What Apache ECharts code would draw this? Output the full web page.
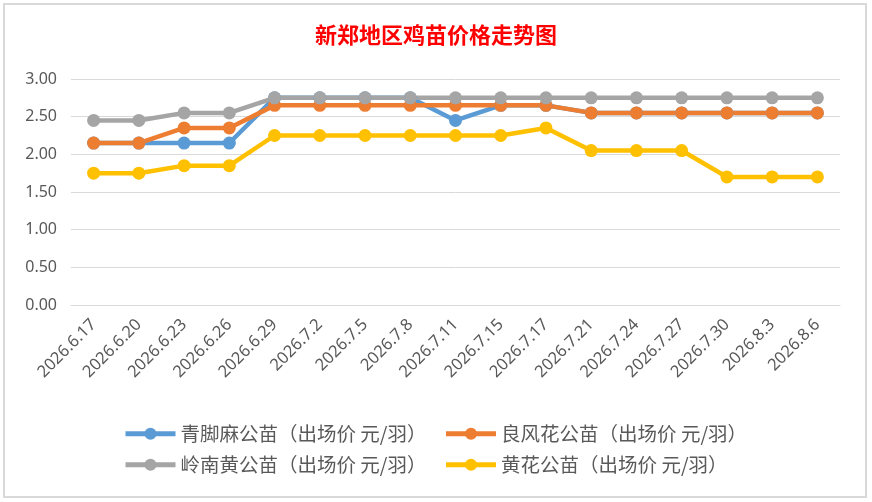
<!DOCTYPE html>
<html>
<head>
<meta charset="utf-8">
<title>新郑地区鸡苗价格走势图</title>
<script src="https://cdn.jsdelivr.net/npm/echarts@6/dist/echarts.min.js"></script>
<style>
  html, body { margin: 0; padding: 0; background: #fff; }
  #main { width: 872px; height: 502px; }
</style>
</head>
<body>
<div id="main"></div>
<script>
// 日期
var dates = ['2026.6.17', '2026.6.20', '2026.6.23', '2026.6.26', '2026.6.29', '2026.7.2', '2026.7.5',
  '2026.7.8', '2026.7.11', '2026.7.15', '2026.7.17', '2026.7.21', '2026.7.24', '2026.7.27',
  '2026.7.30', '2026.8.3', '2026.8.6'];
// 各品种价格 元/羽
var qingjiao = [2.15, 2.15, 2.15, 2.15, 2.75, 2.75, 2.75, 2.75, 2.45, 2.65, 2.65, 2.55, 2.55, 2.55, 2.55, 2.55, 2.55];
var liangfeng = [2.15, 2.15, 2.35, 2.35, 2.65, 2.65, 2.65, 2.65, 2.65, 2.65, 2.65, 2.55, 2.55, 2.55, 2.55, 2.55, 2.55];
var lingnan = [2.45, 2.45, 2.55, 2.55, 2.75, 2.75, 2.75, 2.75, 2.75, 2.75, 2.75, 2.75, 2.75, 2.75, 2.75, 2.75, 2.75];
var huanghua = [1.75, 1.75, 1.85, 1.85, 2.25, 2.25, 2.25, 2.25, 2.25, 2.25, 2.35, 2.05, 2.05, 2.05, 1.70, 1.70, 1.70];
var names = ['青脚麻公苗（出场价 元/羽）', '良风花公苗（出场价 元/羽）', '岭南黄公苗（出场价 元/羽）', '黄花公苗（出场价 元/羽）'];
var colors = ['#5b9bd5', '#ed7d31', '#a5a5a5', '#ffc000'];

var myChart = echarts.init(document.getElementById('main'));

function mkSeries(name, data, color) {
  return {
    name: name,
    type: 'line',
    data: data,
    symbol: 'circle',
    symbolSize: 13,
    lineStyle: { width: 4.5, color: color },
    itemStyle: { color: color },
    emphasis: { disabled: true }
  };
}

var legendText = { color: '#595959', fontSize: 19.5, fontFamily: 'Noto Sans CJK SC' };

var option = {
  animation: false,
  color: colors,
  title: {
    text: '新郑地区鸡苗价格走势图',
    left: 'center',
    top: 19,
    textStyle: { color: '#ff0000', fontSize: 22, fontWeight: 'bold', fontFamily: 'Noto Sans CJK SC' }
  },
  //图表外框
  graphic: [{
    type: 'rect',
    shape: { x: 4, y: 4, width: 862, height: 493 },
    style: { fill: 'none', stroke: '#d9d9d9', lineWidth: 2 },
    silent: true
  }],
  legend: [
    {
      data: [names[0], names[1]],
      left: 118, top: 419,
      itemWidth: 50, itemHeight: 15, itemGap: 17,
      lineStyle: { width: 5 },
      textStyle: legendText
    },
    {
      data: [names[2], names[3]],
      left: 118, top: 450,
      itemWidth: 50, itemHeight: 15, itemGap: 17,
      lineStyle: { width: 5 },
      textStyle: legendText
    }
  ],
  grid: { left: 71, right: 32, top: 79, bottom: 197, containLabel: false },
  xAxis: {
    type: 'category',
    data: dates,
    boundaryGap: true,
    axisLine: { lineStyle: { color: '#d9d9d9', width: 1 } },
    axisTick: { show: false },
    axisLabel: { rotate: 45, interval: 0, color: '#595959', fontSize: 16.5, margin: 17, fontFamily: 'Noto Sans' }
  },
  yAxis: {
    type: 'value',
    min: 0,
    max: 3,
    interval: 0.5,
    axisLine: { show: false },
    axisTick: { show: false },
    axisLabel: {
      color: '#595959', fontSize: 16, margin: 14, fontFamily: 'Noto Sans',
      formatter: function (v) { return v.toFixed(2); }
    },
    splitLine: { lineStyle: { color: '#d9d9d9', width: 1 } }
  },
  series: [
    mkSeries(names[0], qingjiao, colors[0]),
    mkSeries(names[1], liangfeng, colors[1]),
    mkSeries(names[2], lingnan, colors[2]),
    mkSeries(names[3], huanghua, colors[3])
  ]
};
myChart.setOption(option);
window.addEventListener('resize', function () {
  myChart.resize();
});
</script>
</body>
</html>
